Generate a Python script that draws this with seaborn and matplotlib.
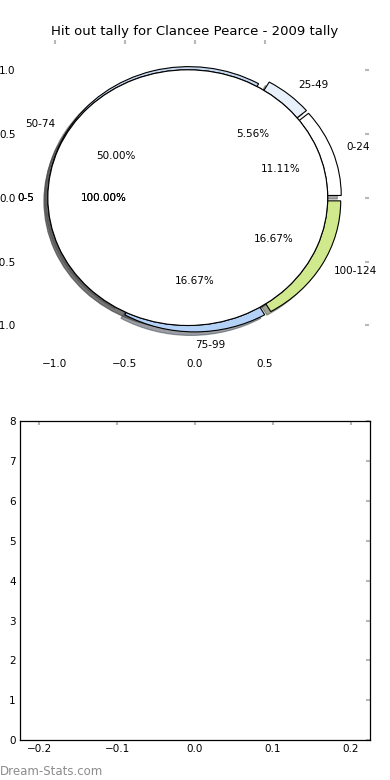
import matplotlib
matplotlib.use('Agg')
import matplotlib.pyplot as plt
import numpy as np
import seaborn as sns

# hit out tally bins and their share of games
bins = ['0-24', '25-49', '50-74', '75-99', '100-124']
shares = [11.11, 5.56, 50.00, 16.67, 16.67]
bin_colors = ['#ffffff', '#e8f0fb', '#c6d8f0', '#b4d2f7', '#d0e98c']

# inner pie (drawn twice in the original)
inner_labels = ['0-5', '0-5']
inner_shares = [100.0]

title = 'Hit out tally for Clancee Pearce - 2009 tally'

sns.set_style('white')
plt.rcParams['font.family'] = ['DejaVu Sans']
plt.rcParams['font.size'] = 7.5
plt.rcParams['text.color'] = 'black'
plt.rcParams['axes.labelcolor'] = 'black'
plt.rcParams['xtick.labelcolor'] = 'black'
plt.rcParams['ytick.labelcolor'] = 'black'

fig = plt.figure(figsize=(3.9, 7.8), dpi=100)
ax = fig.add_axes([0.051, 0.545, 0.895, 0.404])
ax2 = fig.add_axes([0.051, 0.051, 0.898, 0.409])

wedge_style = {'edgecolor': 'black', 'linewidth': 0.8}

wedges, texts, pcts = ax.pie(shares, labels=bins, colors=bin_colors,
                             explode=[0.05] * len(shares), autopct='%.2f%%',
                             shadow=True, frame=True, wedgeprops=wedge_style,
                             textprops={'fontsize': 7.5, 'color': 'black'})
# the bottom label sits to the right of its anchor in the original
texts[bins.index('75-99')].set_ha('left')

for lab in inner_labels:
    ax.pie(inner_shares, labels=[lab], colors=['white'], explode=[0.05],
           autopct='%.2f%%', shadow=True, frame=True, wedgeprops=wedge_style,
           textprops={'fontsize': 7.5, 'color': 'black'})

ax.set_aspect('auto')
ax.set_xlim(-1.25, 1.245)
ax.set_ylim(-1.23, 1.235)
ax.set_xticks([-1.0, -0.5, 0.0, 0.5])
ax.set_yticks([1.0, 0.5, 0.0, -0.5, -1.0])
ax.set_xticklabels(['\u22121.0', '\u22120.5', '0.0', '0.5'])
ax.set_yticklabels(['1.0', '0.5', '0.0', '\u22120.5', '\u22121.0'])
for s in ax.spines.values():
    s.set_visible(False)
ax.set_title(title, fontsize=9.5, pad=3.5, color='black')

# empty lower panel
ax2.set_xlim(-0.225, 0.225)
ax2.set_ylim(0, 8)
ax2.set_xticks([-0.2, -0.1, 0.0, 0.1, 0.2])
ax2.set_yticks(range(0, 9))
for s in ax2.spines.values():
    s.set_visible(True)
    s.set_color('black')
    s.set_linewidth(0.9)

for a in (ax, ax2):
    a.tick_params(direction='in', length=3, width=1.5, color='#b8b8b8',
                  labelsize=7.5, labelcolor='black', top=True, right=True,
                  pad=3)

fig.text(0.0, 0.006, 'Dream-Stats.com', color='#8c8c8c', fontsize=8.5)

fig.savefig('out.png', dpi=100)
